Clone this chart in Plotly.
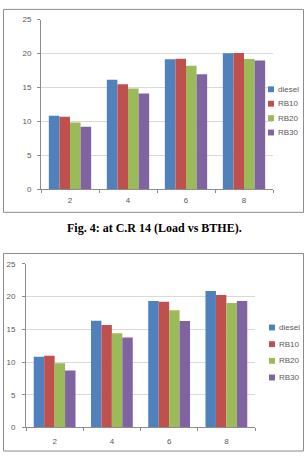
import plotly.graph_objects as go

W, H = 308, 457

loads = ["2", "4", "6", "8"]
series = ["diesel", "RB10", "RB20", "RB30"]
colors = ["#4F81BD", "#C0504D", "#9BBB59", "#8064A2"]

# Chart 1 (C.R 14, Load vs BTHE)
c1_diesel = [10.85, 16.15, 19.15, 20.05]
c1_rb10 = [10.7, 15.5, 19.25, 20.1]
c1_rb20 = [9.85, 14.85, 18.2, 19.2]
c1_rb30 = [9.2, 14.1, 16.95, 19.0]

# Chart 2
c2_diesel = [10.8, 16.3, 19.3, 20.85]
c2_rb10 = [10.95, 15.65, 19.2, 20.25]
c2_rb20 = [9.8, 14.4, 17.9, 19.0]
c2_rb30 = [8.7, 13.75, 16.25, 19.3]

yticks = [0, 5, 10, 15, 20, 25]
caption = "Fig. 4: at C.R 14 (Load vs BTHE)."

c1 = [c1_diesel, c1_rb10, c1_rb20, c1_rb30]
c2 = [c2_diesel, c2_rb10, c2_rb20, c2_rb30]


def px(x):
    return x / W


def py(y):
    return 1 - y / H


fig = go.Figure()
for i, name in enumerate(series):
    fig.add_trace(go.Bar(x=loads, y=c1[i], name=name, marker_color=colors[i],
                         marker_line_width=0, xaxis="x", yaxis="y", showlegend=False))
for i, name in enumerate(series):
    fig.add_trace(go.Bar(x=loads, y=c2[i], name=name, marker_color=colors[i],
                         marker_line_width=0, xaxis="x2", yaxis="y2", showlegend=False))

tickfont = dict(family="Liberation Sans", size=8, color="#595959")
axcol = "#8C8C8C"
gridcol = "#D9D9D9"


def yax(domain, anchor, standoff):
    return dict(domain=domain, anchor=anchor, range=[0, 25], tickvals=yticks,
                showgrid=True, gridcolor=gridcol, gridwidth=1,
                showline=True, linecolor=axcol, linewidth=1,
                ticks="outside", ticklen=3, tickcolor=axcol,
                tickfont=tickfont, zeroline=False, fixedrange=True,
                ticklabelstandoff=standoff)


def xax(domain, anchor, standoff):
    return dict(domain=domain, anchor=anchor, type="category",
                tickson="boundaries", ticks="outside", ticklen=3, tickcolor=axcol,
                showline=True, linecolor=axcol, linewidth=1, showgrid=False,
                tickfont=tickfont, fixedrange=True, ticklabelstandoff=standoff)


fig.update_layout(
    width=W, height=H,
    margin=dict(l=0, r=0, t=0, b=0),
    paper_bgcolor="white", plot_bgcolor="white",
    barmode="group", bargap=0.27, bargroupgap=0,
    showlegend=False,
    xaxis=xax([px(41), px(273)], "y", 3),
    yaxis=yax([py(189), py(16)], "x", 4),
    xaxis2=xax([px(26), px(255)], "y2", 6),
    yaxis2=yax([py(432), py(265)], "x2", 5),
)

shapes = [
    dict(type="rect", xref="paper", yref="paper", x0=px(3.5), x1=px(303.5),
         y0=py(212.5), y1=py(5.5), line=dict(color="#8C8C8C", width=1)),
    dict(type="rect", xref="paper", yref="paper", x0=px(3.5), x1=px(303.5),
         y0=py(456), y1=py(254.5), line=dict(color="#8C8C8C", width=1)),
]
annotations = []

# legends
for lx, ly0, dy in [(268, 87, 14.7), (269, 330, 17)]:
    for i, name in enumerate(series):
        cy = ly0 + i * dy
        shapes.append(dict(type="rect", xref="paper", yref="paper",
                           x0=px(lx), x1=px(lx + 6), y0=py(cy + 3), y1=py(cy - 3),
                           fillcolor=colors[i], line=dict(width=0)))
        annotations.append(dict(text=name, xref="paper", yref="paper",
                                x=px(lx + 8), y=py(cy), xanchor="left", yanchor="middle",
                                showarrow=False,
                                font=dict(family="Liberation Sans", size=8, color="#595959")))

annotations.append(dict(text="<b>" + caption + "</b>", xref="paper", yref="paper",
                        x=px(154), y=py(228), xanchor="center", yanchor="middle",
                        showarrow=False,
                        font=dict(family="Liberation Serif", size=12, color="black")))

fig.update_layout(shapes=shapes, annotations=annotations)
fig.write_html("out.html")
